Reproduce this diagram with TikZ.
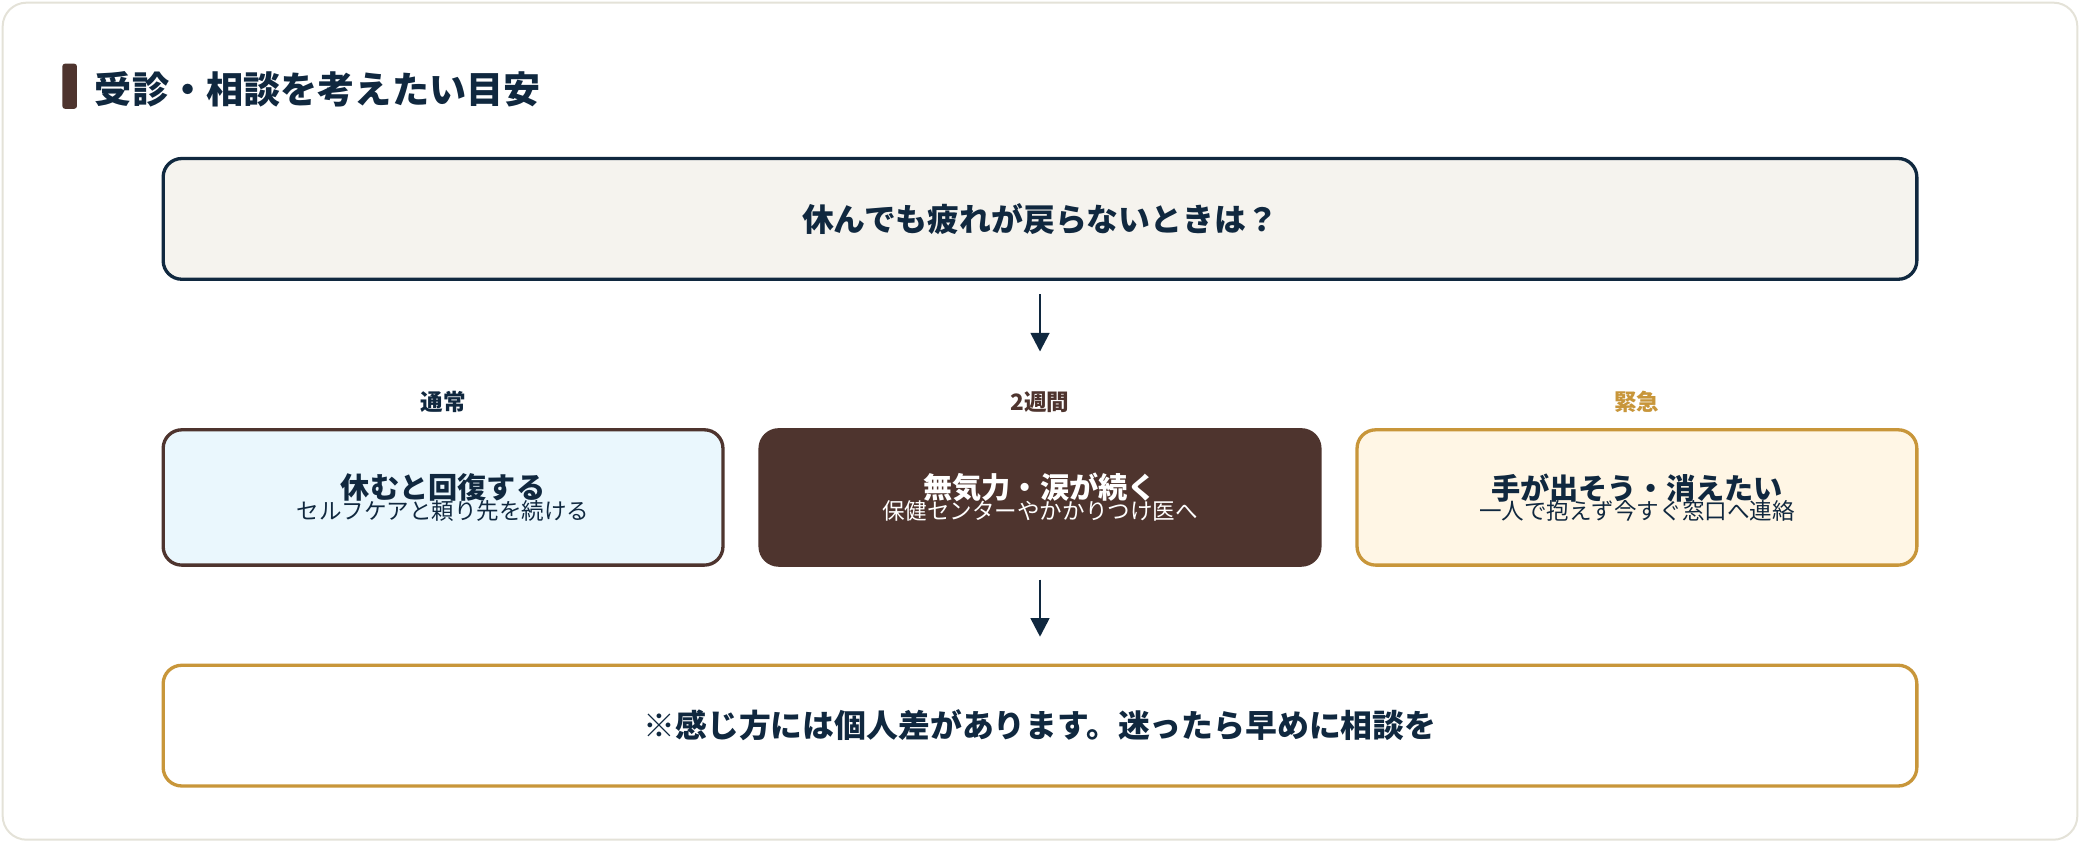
\documentclass[tikz,border=0pt]{standalone}
\usepackage{fontspec}
\setmainfont{Noto Sans CJK JP}
\newfontfamily\jpbold{Noto Sans CJK JP}[BoldFont={* Bold}]
\usetikzlibrary{positioning,arrows.meta}
\definecolor{navy}{HTML}{10283F}
\definecolor{brown}{HTML}{4E342E}
\definecolor{gold}{HTML}{C8963A}
\definecolor{cardline}{HTML}{E4E2D8}
\definecolor{topfill}{HTML}{F5F3EE}
\definecolor{bluefill}{HTML}{EAF7FD}
\definecolor{creamfill}{HTML}{FFF6E5}

\begin{document}
\begin{tikzpicture}[x=1pt,y=-1pt,
            wide box/.style={draw,line width=2.5pt,rounded corners=14pt,minimum width=1322pt,
              minimum height=91pt,font=\fontsize{24}{28}\selectfont\bfseries,text=navy},
            step box/.style={draw,line width=2.5pt,rounded corners=14pt,minimum width=422pt,
              minimum height=102pt,align=center,text=navy},
            step label/.style={font=\fontsize{17}{20}\selectfont\bfseries},
            flow/.style={-{Triangle[length=14pt,width=14pt]},line width=2pt,navy}]

        \useasboundingbox (0,0) rectangle (1568,635);
        \draw[cardline,fill=white,line width=1.5pt,rounded corners=18pt] (2,2) rectangle (1566,633);

        % Title
        \fill[brown,rounded corners=2pt] (47,48) rectangle (58,82);
        \node[anchor=west,text=navy,font=\fontsize{28}{32}\selectfont\bfseries] (title) at (68,67) {受診・相談を考えたい目安};

        % Define boxes
        \node[wide box,draw=navy,fill=topfill] (question) at (784,165) {休んでも疲れが戻らないときは？};
        \node[step box,draw=brown,fill=bluefill] (normal) at (334,375)
            {{\fontsize{22}{30}\selectfont\bfseries 休むと回復する}\\[-2pt]{\fontsize{17}{22}\selectfont セルフケアと頼り先を続ける}};
        \node[step box,draw=brown,fill=brown,text=white] (twoweeks) at (784,375)
            {{\fontsize{22}{30}\selectfont\bfseries 無気力・涙が続く}\\[-2pt]{\fontsize{17}{22}\selectfont 保健センターやかかりつけ医へ}};
        \node[step box,draw=gold,fill=creamfill] (urgent) at (1234,375)
            {{\fontsize{22}{30}\selectfont\bfseries 手が出そう・消えたい}\\[-2pt]{\fontsize{17}{22}\selectfont 一人で抱えず今すぐ窓口へ連絡}};
        \node[wide box,draw=gold,fill=white] (note) at (784,547) {※感じ方には個人差があります。迷ったら早めに相談を};

        % Labels
        \node[step label,text=navy,above=8pt of normal] (normallabel) {通常};
        \node[step label,text=brown,above=8pt of twoweeks] (twoweekslabel) {2週間};
        \node[step label,text=gold,above=8pt of urgent] (urgentlabel) {緊急};

        % Draw arrows
        \coordinate (a1) at (784,222);
        \coordinate (a2) at (784,437);
        \draw[flow] (a1) -- (784,265);
        \draw[flow] (a2) -- (784,480);

        \end{tikzpicture}
\end{document}
